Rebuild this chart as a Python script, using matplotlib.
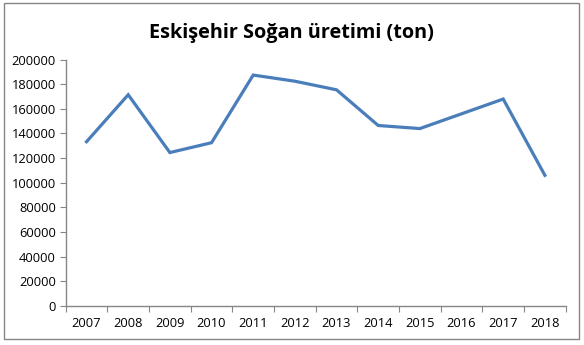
import matplotlib.pyplot as plt
from matplotlib.patches import Rectangle

years = [2007, 2008, 2009, 2010, 2011, 2012, 2013, 2014, 2015, 2016, 2017, 2018]
uretim = [133300, 171500, 124500, 132500, 187500, 182500, 175500, 146500, 144000, 156000, 168000, 106000]
yticks = list(range(0, 200001, 20000))

plt.rcParams['font.family'] = ['Open Sans', 'DejaVu Sans']

fig = plt.figure(figsize=(5.84, 3.45), dpi=100)
ax = fig.add_axes([0.1125, 0.1139, 0.8562, 0.7131])

ax.plot(years, uretim, color='#4a7ebb', linewidth=2.3, solid_joinstyle='miter')

ax.set_xlim(years[0] - 0.5, years[-1] + 0.5)
ax.set_ylim(0, 200000)
ax.set_yticks(yticks)
ax.set_yticklabels([str(v) for v in yticks], fontsize=9.3)

# category boundaries as tick marks, labels centred in between
ax.set_xticks([y - 0.5 for y in years] + [years[-1] + 0.5])
ax.set_xticklabels([])
ax.set_xticks(years, minor=True)
ax.set_xticklabels([str(y) for y in years], minor=True, fontsize=9.3)
ax.tick_params(axis='x', which='minor', length=0, pad=8)
ax.tick_params(axis='x', which='major', length=4, color='#868686')
ax.tick_params(axis='y', length=4, color='#868686', pad=3)

for s in ['top', 'right']:
    ax.spines[s].set_visible(False)
for s in ['left', 'bottom']:
    ax.spines[s].set_color('#868686')
    ax.spines[s].set_linewidth(1)

fig.text(0.499, 0.905, 'Eskişehir Soğan üretimi (ton)', ha='center', va='center',
         fontsize=14.3, fontweight='bold')

fig.patches.append(Rectangle((4 / 584, 6 / 345), 575 / 584, 336 / 345, transform=fig.transFigure,
                             fill=False, edgecolor='#868686', linewidth=1))

fig.savefig('out.png', dpi=100)
